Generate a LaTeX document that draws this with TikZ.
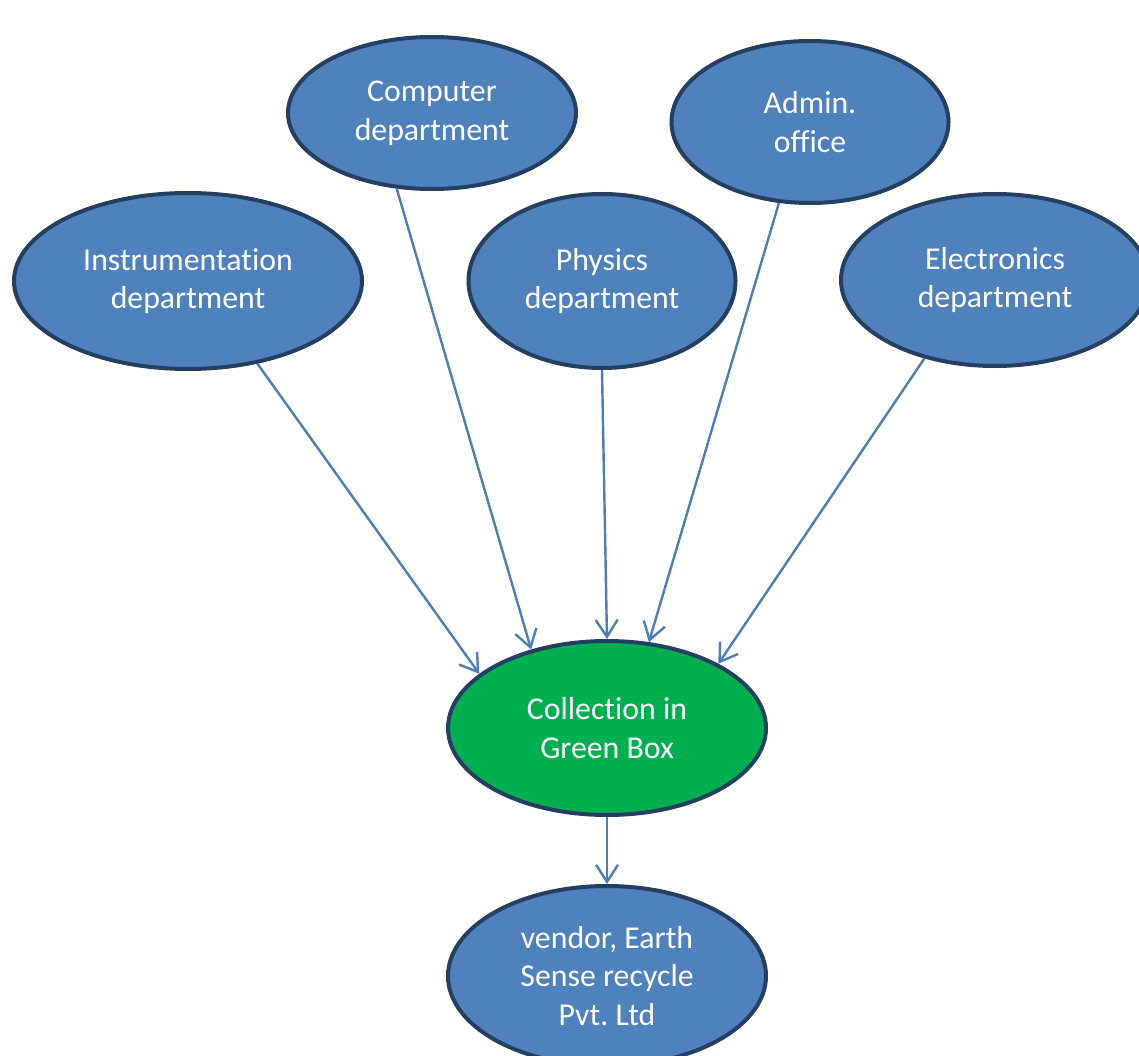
\documentclass[tikz,border=0pt]{standalone}
\usepackage{fontspec}
\setmainfont{Carlito}[Ligatures=NoCommon]
\usetikzlibrary{shapes.geometric,arrows.meta}
\definecolor{bfill}{HTML}{4F81BD}
\definecolor{bline}{HTML}{243F60}
\definecolor{gfill}{HTML}{00B050}
\definecolor{arrcol}{HTML}{4A7EBB}
\frenchspacing
\tikzset{
  dept/.style={ellipse, draw=bline, line width=4pt, fill=bfill, text=white,
    inner sep=0pt, align=center, font=\fontsize{31.8}{38.5}\selectfont},
  arr/.style={draw=arrcol, line width=2.4pt, -{Straight Barb[length=17pt,width=22pt]}}
}
\begin{document}
\begin{tikzpicture}[x=1pt,y=-1pt]
\useasboundingbox (0,0) rectangle (1139,1056);
\clip (0,0) rectangle (1139,1056);
\node[dept, minimum width=348pt, minimum height=176pt] (inst) at (188,281) {Instrumentation\\department};
\node[dept, minimum width=288pt, minimum height=152pt] (comp) at (432,113) {Computer\\department};
\node[dept, minimum width=267pt, minimum height=174pt] (phys) at (602,281) {Physics\\department};
\node[dept, minimum width=277pt, minimum height=162pt] (adm) at (810,122) {Admin.\\office};
\node[dept, minimum width=308pt, minimum height=172pt] (elec) at (995,280) {Electronics\\department};
\node[dept, fill=gfill, minimum width=318pt, minimum height=174pt] (coll) at (607,728) {Collection in\\Green Box};
\node[dept, minimum width=318pt, minimum height=180pt] (vend) at (607,976) {vendor, Earth\\Sense recycle\\Pvt. Ltd};
\draw[arr] (inst.-50) -- (coll.157);
\draw[arr] (comp.-115) -- (coll.134);
\draw[arr] (phys.south) -- (coll.north);
\draw[arr] (adm.-111) -- (coll.64);
\draw[arr] (elec.-132) -- (coll.30);
\draw[arr] (coll.south) -- (vend.north);
\end{tikzpicture}
\end{document}
